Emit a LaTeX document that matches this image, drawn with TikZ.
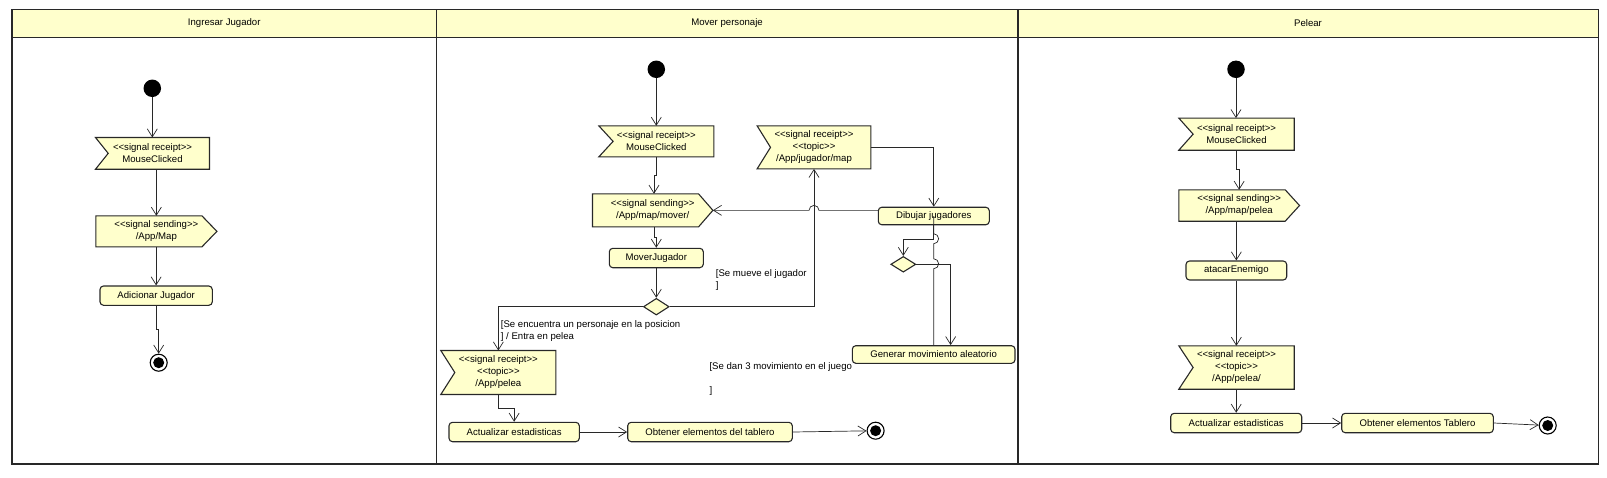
\documentclass[tikz,border=0pt]{standalone}
\usepackage{fontspec}
\setmainfont{Liberation Sans}[Ligatures=TeXOff]
\usetikzlibrary{arrows.meta,shapes.geometric,calc}
\definecolor{yel}{RGB}{255,255,204}
\definecolor{linec}{RGB}{40,40,40}
\pgfdeclarelayer{bg}
\pgfsetlayers{bg,main}
\tikzset{
 txt/.style={font=\fontsize{9.6}{12}\selectfont},
 act/.style={txt, rectangle, rounded corners=3.5pt, draw=linec, fill=yel, line width=1.1pt, inner sep=0pt, align=center},
 sig/.style={txt, rectangle, inner sep=0pt, align=center},
 shp/.style={draw=linec, fill=yel, line width=1.1pt, line join=miter},
 flow/.style={draw=linec, line width=0.7pt, -{Straight Barb[length=8pt,width=10pt,line width=0.7pt]}},
 wire/.style={draw=linec, line width=0.7pt},
 initnode/.style={circle, fill=black, minimum size=17.5pt, inner sep=0pt},
 finnode/.style={circle, draw=black, line width=1.1pt, fill=white, minimum size=17pt, inner sep=0pt, path picture={\fill[black] (path picture bounding box.center) circle (5.5pt);}},
 dec/.style={diamond, draw=linec, fill=yel, line width=1.1pt, inner sep=0pt},
 guard/.style={txt, inner sep=0pt, align=left, anchor=north west},
 lane/.style={draw=linec, line width=1.6pt},
}
\newcommand\RecShape[2]{\draw[shp] (#1.north west) -- (#1.north east) -- (#1.south east) -- (#1.south west) -- ([xshift=#2pt]#1.west) -- cycle;}
\newcommand\SendShape[2]{\draw[shp] (#1.north west) -- ([xshift=-#2pt]#1.north east) -- (#1.east) -- ([xshift=-#2pt]#1.south east) -- (#1.south west) -- cycle;}
\begin{document}
\begin{tikzpicture}[x=1pt,y=-1pt]
\useasboundingbox (0,0) rectangle (1607,477);
\begin{pgfonlayer}{bg}
\fill[white] (0,0) rectangle (1607,477);
\fill[yel] (12,9.5) rectangle (1598.5,37.3);
\draw[lane] (12,9.5) rectangle (1598.5,464);
\draw[lane] (12,37.3) -- (1598.5,37.3);
\draw[lane] (436.5,9.5) -- (436.5,464);
\draw[lane] (1018,9.5) -- (1018,464);
\end{pgfonlayer}
% headers
\node[txt] (h1) at (224.25,23.5) {Ingresar Jugador};
\node[txt] (h2) at (727,23.5) {Mover personaje};
\node[txt] (h3) at (1308,23.5) {Pelear};
% lane 1
\node[initnode] (i1) at (152.3,88.3) {};
\node[sig, minimum width=113.6pt, minimum height=31.3pt] (r1) at (152.5,153.35) {<<signal receipt>>\\MouseClicked};
\node[sig, minimum width=120.7pt, minimum height=30.7pt] (s1) at (156.35,231.35) {<<signal sending>>\\/App/Map};
\node[act, minimum width=112.3pt, minimum height=19.3pt] (a1) at (156.15,295.65) {Adicionar Jugador};
\node[finnode] (f1) at (158.7,362.7) {};
% lane 2
\node[initnode] (i2) at (656.3,69.3) {};
\node[sig, minimum width=114.7pt, minimum height=30.7pt] (r2) at (656.35,141.35) {<<signal receipt>>\\MouseClicked};
\node[sig, minimum width=120pt, minimum height=32.7pt] (s2) at (652.7,210.35) {<<signal sending>>\\/App/map/mover/};
\node[act, minimum width=94pt, minimum height=19.4pt] (m2) at (656.3,258) {MoverJugador};
\node[dec, minimum width=25.7pt, minimum height=16.7pt] (d1) at (656.3,306.7) {};
\node[sig, minimum width=114.7pt, minimum height=43.6pt] (r3) at (498.35,372.5) {<<signal receipt>>\\<<topic>>\\/App/pelea};
\node[sig, minimum width=113.4pt, minimum height=42.7pt] (r4) at (814,147.35) {<<signal receipt>>\\<<topic>>\\/App/jugador/map};
\node[act, minimum width=111pt, minimum height=17.5pt] (dj) at (933.8,216) {Dibujar jugadores};
\node[dec, minimum width=25pt, minimum height=15.7pt] (d2) at (903.3,264.3) {};
\node[act, minimum width=162.7pt, minimum height=17.6pt] (g) at (933.65,354.5) {Generar movimiento aleatorio};
\node[act, minimum width=130.3pt, minimum height=19.4pt] (a2) at (514.15,432) {Actualizar estadisticas};
\node[act, minimum width=164.6pt, minimum height=19.4pt] (o2) at (710,432) {Obtener elementos del tablero};
\node[finnode] (f2) at (875.6,430.7) {};
\node[guard] (gl1) at (500.7,320.2) {[Se encuentra un personaje en la posicion\\] / Entra en pelea};
\node[guard] (gl2) at (715.7,269.8) {[Se mueve el jugador\\]};
\node[guard] (gl3) at (709.3,362.2) {[Se dan 3 movimiento en el juego\\[12pt]{]}};
% lane 3
\node[initnode] (i3) at (1236,69.3) {};
\node[sig, minimum width=115pt, minimum height=31.7pt] (r5) at (1236.5,134.15) {<<signal receipt>>\\MouseClicked};
\node[sig, minimum width=120.3pt, minimum height=31pt] (s3) at (1239.15,205.5) {<<signal sending>>\\/App/map/pelea};
\node[act, minimum width=100.7pt, minimum height=19pt] (atk) at (1236.35,270.5) {atacarEnemigo};
\node[sig, minimum width=115pt, minimum height=43pt] (r6) at (1236.5,367.5) {<<signal receipt>>\\<<topic>>\\/App/pelea/};
\node[act, minimum width=131pt, minimum height=19.4pt] (a3) at (1236.2,423) {Actualizar estadisticas};
\node[act, minimum width=151.6pt, minimum height=19.4pt] (o3) at (1417.5,423) {Obtener elementos Tablero};
\node[finnode] (f3) at (1547.7,425.5) {};
% signal shapes
\begin{pgfonlayer}{bg}
\RecShape{r1}{12.7}
\RecShape{r2}{14.3}
\RecShape{r3}{14}
\RecShape{r4}{13.4}
\RecShape{r5}{14.3}
\RecShape{r6}{14.3}
\SendShape{s1}{15}
\SendShape{s2}{14.4}
\SendShape{s3}{14.3}
\end{pgfonlayer}
% connectors lane 1
\draw[flow] (i1.south) -- (i1.south |- r1.north);
\draw[flow] (s1.north |- r1.south) -- (s1.north);
\draw[flow] (a1.north |- s1.south) -- (a1.north);
\draw[flow] (a1.south) -- ++(0,23.7) -| (f1.north);
% connectors lane 2
\draw[flow] (i2.south) -- (i2.south |- r2.north);
\draw[flow] (r2.south) -- ++(0,18.3) -| ([xshift=1.3pt]s2.north);
\draw[flow] ([xshift=1.3pt]s2.south) -- ++(0,10) -| (m2.north);
\draw[flow] (m2.south) -- (d1.north);
\draw[flow] (d1.west) -| (r3.north);
\draw[flow] (d1.east) -| (r4.south);
\draw[flow] (r4.east) -| (dj.north);
\coordinate (j1) at (r4.south |- s2.east);
\draw[flow] (dj.west |- s2.east) -- ([xshift=5pt]j1) arc[start angle=0,end angle=180,radius=5pt] -- (s2.east);
\draw[flow] (dj.south) -- ++(0,14.5) -| (d2.north);
\draw[flow] (d2.east) -| ([xshift=17pt]g.north);
\draw[wire] (g.north) -- ++(0,-76.4) arc[start angle=-90,end angle=90,radius=5pt] -- ++(0,-15) arc[start angle=-90,end angle=90,radius=5pt] -- (g.north |- dj.center);
\draw[flow] (r3.south) -- ++(0,13.9) -| (a2.north);
\draw[flow] (a2.east) -- (o2.west);
\draw[flow] (o2.east) -- (f2);
% connectors lane 3
\draw[flow] (i3.south) -- (i3.south |- r5.north);
\draw[flow] (r5.south) -- ++(0,19.3) -| (s3.north);
\draw[flow] (atk.north |- s3.south) -- (atk.north);
\draw[flow] (atk.south) -- (atk.south |- r6.north);
\draw[flow] (a3.north |- r6.south) -- (a3.north);
\draw[flow] (a3.east) -- (o3.west);
\draw[flow] (o3.east) -- (f3);
\end{tikzpicture}
\end{document}
